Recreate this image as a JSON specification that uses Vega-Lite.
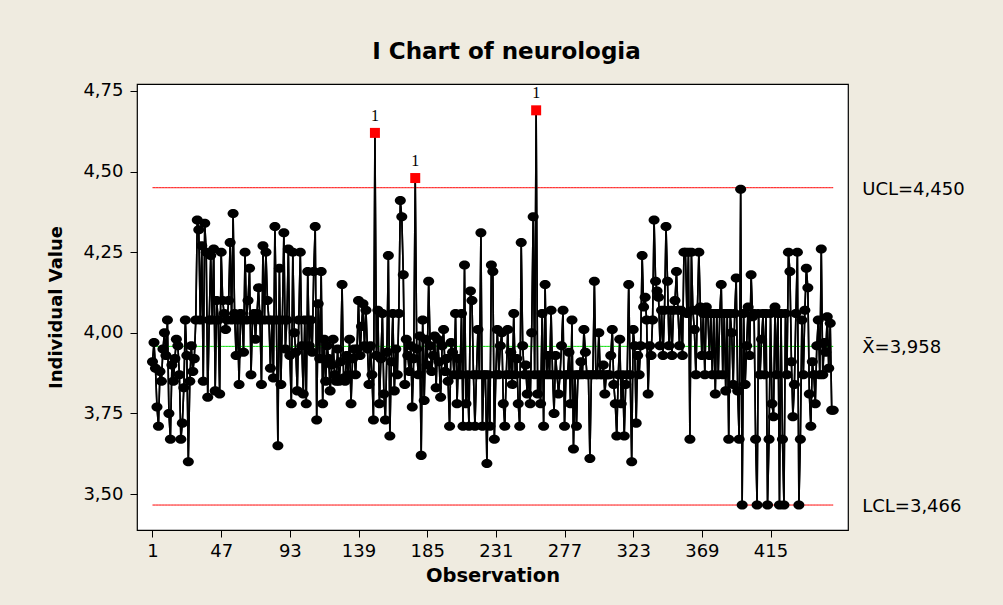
{
  "$schema": "https://vega.github.io/schema/vega-lite/v6.json",
  "width": 711,
  "height": 446,
  "autosize": {"type": "none"},
  "padding": {"left": 137, "top": 84, "right": 155, "bottom": 75},
  "background": "#EFEBE0",
  "config": {
    "view": {"fill": "white", "stroke": "black", "strokeWidth": 1.2},
    "font": "DejaVu Sans"
  },
  "title": {"text": "I Chart of neurologia", "fontSize": 23, "fontWeight": "bold", "font": "DejaVu Sans", "color": "black", "anchor": "middle", "offset": 18, "dx": 14},
  "datasets": {
    "limits": [
      {"kind": "UCL", "v": 4.450, "lbl": "UCL=4,450"},
      {"kind": "CL", "v": 3.958, "lbl": "X\u0304=3,958"},
      {"kind": "LCL", "v": 3.466, "lbl": "LCL=3,466"}
    ],
    "obs": [
{"obs":1,"v":3.91},{"obs":2,"v":3.97},{"obs":3,"v":3.89},{"obs":4,"v":3.77},{"obs":5,"v":3.71},{"obs":6,"v":3.88},{"obs":7,"v":3.85},{"obs":8,"v":3.95},{"obs":9,"v":4.00},{"obs":10,"v":3.93},
{"obs":11,"v":4.04},{"obs":12,"v":3.75},{"obs":13,"v":3.67},{"obs":14,"v":3.90},{"obs":15,"v":3.85},{"obs":16,"v":3.92},{"obs":17,"v":3.98},{"obs":18,"v":3.96},{"obs":19,"v":3.87},{"obs":20,"v":3.67},
{"obs":21,"v":3.72},{"obs":22,"v":3.83},{"obs":23,"v":4.04},{"obs":24,"v":3.93},{"obs":25,"v":3.60},{"obs":26,"v":3.85},{"obs":27,"v":3.96},{"obs":28,"v":3.88},{"obs":29,"v":3.92},{"obs":30,"v":4.04},
{"obs":31,"v":4.35},{"obs":32,"v":4.32},{"obs":33,"v":4.04},{"obs":34,"v":4.27},{"obs":35,"v":3.85},{"obs":36,"v":4.34},{"obs":37,"v":4.25},{"obs":38,"v":3.80},{"obs":39,"v":4.04},{"obs":40,"v":4.24},
{"obs":41,"v":4.04},{"obs":42,"v":4.26},{"obs":43,"v":3.82},{"obs":44,"v":4.10},{"obs":45,"v":4.04},{"obs":46,"v":3.81},{"obs":47,"v":4.25},{"obs":48,"v":4.10},{"obs":49,"v":4.06},{"obs":50,"v":4.01},
{"obs":51,"v":4.04},{"obs":52,"v":4.10},{"obs":53,"v":4.28},{"obs":54,"v":4.04},{"obs":55,"v":4.37},{"obs":56,"v":4.06},{"obs":57,"v":3.93},{"obs":58,"v":4.04},{"obs":59,"v":3.84},{"obs":60,"v":4.06},
{"obs":61,"v":4.04},{"obs":62,"v":3.94},{"obs":63,"v":4.25},{"obs":64,"v":4.04},{"obs":65,"v":4.10},{"obs":66,"v":4.20},{"obs":67,"v":3.87},{"obs":68,"v":4.04},{"obs":69,"v":4.06},{"obs":70,"v":3.98},
{"obs":71,"v":4.06},{"obs":72,"v":4.14},{"obs":73,"v":4.04},{"obs":74,"v":3.84},{"obs":75,"v":4.27},{"obs":76,"v":4.04},{"obs":77,"v":4.25},{"obs":78,"v":4.10},{"obs":79,"v":4.04},{"obs":80,"v":3.89},
{"obs":81,"v":4.04},{"obs":82,"v":3.86},{"obs":83,"v":4.33},{"obs":84,"v":4.04},{"obs":85,"v":3.65},{"obs":86,"v":4.20},{"obs":87,"v":3.84},{"obs":88,"v":4.04},{"obs":89,"v":4.31},{"obs":90,"v":3.95},
{"obs":91,"v":4.04},{"obs":92,"v":4.26},{"obs":93,"v":3.93},{"obs":94,"v":3.78},{"obs":95,"v":4.25},{"obs":96,"v":4.00},{"obs":97,"v":3.94},{"obs":98,"v":3.82},{"obs":99,"v":4.04},{"obs":100,"v":4.25},
{"obs":101,"v":3.96},{"obs":102,"v":3.81},{"obs":103,"v":4.04},{"obs":104,"v":3.78},{"obs":105,"v":4.19},{"obs":106,"v":3.96},{"obs":107,"v":4.04},{"obs":108,"v":3.94},{"obs":109,"v":4.19},{"obs":110,"v":4.33},
{"obs":111,"v":3.73},{"obs":112,"v":4.09},{"obs":113,"v":3.92},{"obs":114,"v":4.19},{"obs":115,"v":3.78},{"obs":116,"v":3.98},{"obs":117,"v":3.85},{"obs":118,"v":3.96},{"obs":119,"v":3.92},{"obs":120,"v":3.82},
{"obs":121,"v":3.90},{"obs":122,"v":3.98},{"obs":123,"v":3.87},{"obs":124,"v":3.85},{"obs":125,"v":3.95},{"obs":126,"v":3.85},{"obs":127,"v":3.91},{"obs":128,"v":4.15},{"obs":129,"v":3.86},{"obs":130,"v":3.85},
{"obs":131,"v":3.93},{"obs":132,"v":3.87},{"obs":133,"v":3.98},{"obs":134,"v":3.78},{"obs":135,"v":3.92},{"obs":136,"v":3.95},{"obs":137,"v":3.87},{"obs":138,"v":3.95},{"obs":139,"v":4.10},{"obs":140,"v":3.93},
{"obs":141,"v":4.02},{"obs":142,"v":4.09},{"obs":143,"v":3.96},{"obs":144,"v":4.07},{"obs":145,"v":3.95},{"obs":146,"v":3.84},{"obs":147,"v":3.96},{"obs":148,"v":3.87},{"obs":149,"v":3.73},{"obs":150,"v":4.62},
{"obs":151,"v":3.93},{"obs":152,"v":4.07},{"obs":153,"v":3.78},{"obs":154,"v":3.92},{"obs":155,"v":4.06},{"obs":156,"v":3.81},{"obs":157,"v":3.73},{"obs":158,"v":3.94},{"obs":159,"v":4.24},{"obs":160,"v":3.68},
{"obs":161,"v":3.91},{"obs":162,"v":4.06},{"obs":163,"v":3.82},{"obs":164,"v":3.95},{"obs":165,"v":3.87},{"obs":166,"v":4.06},{"obs":167,"v":4.41},{"obs":168,"v":4.36},{"obs":169,"v":4.18},{"obs":170,"v":3.84},
{"obs":171,"v":3.98},{"obs":172,"v":3.93},{"obs":173,"v":3.88},{"obs":174,"v":3.96},{"obs":175,"v":3.77},{"obs":176,"v":3.92},{"obs":177,"v":4.48},{"obs":178,"v":3.95},{"obs":179,"v":3.87},{"obs":180,"v":3.99},
{"obs":181,"v":3.62},{"obs":182,"v":4.04},{"obs":183,"v":3.79},{"obs":184,"v":3.98},{"obs":185,"v":3.90},{"obs":186,"v":4.16},{"obs":187,"v":3.96},{"obs":188,"v":3.88},{"obs":189,"v":3.93},{"obs":190,"v":3.99},
{"obs":191,"v":3.83},{"obs":192,"v":3.98},{"obs":193,"v":3.91},{"obs":194,"v":3.80},{"obs":195,"v":3.96},{"obs":196,"v":4.01},{"obs":197,"v":3.88},{"obs":198,"v":3.92},{"obs":199,"v":3.85},{"obs":200,"v":3.71},
{"obs":201,"v":3.97},{"obs":202,"v":3.94},{"obs":203,"v":3.87},{"obs":204,"v":4.06},{"obs":205,"v":3.78},{"obs":206,"v":3.92},{"obs":207,"v":3.87},{"obs":208,"v":4.06},{"obs":209,"v":3.71},{"obs":210,"v":4.21},
{"obs":211,"v":3.78},{"obs":212,"v":3.87},{"obs":213,"v":3.71},{"obs":214,"v":4.13},{"obs":215,"v":4.10},{"obs":216,"v":3.87},{"obs":217,"v":3.71},{"obs":218,"v":3.87},{"obs":219,"v":4.01},{"obs":220,"v":3.87},
{"obs":221,"v":4.31},{"obs":222,"v":3.71},{"obs":223,"v":3.87},{"obs":224,"v":3.87},{"obs":225,"v":3.595},{"obs":226,"v":3.87},{"obs":227,"v":3.71},{"obs":228,"v":4.21},{"obs":229,"v":4.19},{"obs":230,"v":3.67},
{"obs":231,"v":3.87},{"obs":232,"v":4.01},{"obs":233,"v":3.87},{"obs":234,"v":3.96},{"obs":235,"v":4.00},{"obs":236,"v":3.78},{"obs":237,"v":3.71},{"obs":238,"v":3.87},{"obs":239,"v":4.01},{"obs":240,"v":3.87},
{"obs":241,"v":3.94},{"obs":242,"v":3.84},{"obs":243,"v":4.06},{"obs":244,"v":3.87},{"obs":245,"v":3.92},{"obs":246,"v":3.78},{"obs":247,"v":3.71},{"obs":248,"v":4.28},{"obs":249,"v":3.96},{"obs":250,"v":3.87},
{"obs":251,"v":3.90},{"obs":252,"v":3.81},{"obs":253,"v":3.87},{"obs":254,"v":3.78},{"obs":255,"v":4.00},{"obs":256,"v":4.36},{"obs":257,"v":3.87},{"obs":258,"v":4.69},{"obs":259,"v":3.81},{"obs":260,"v":3.87},
{"obs":261,"v":3.78},{"obs":262,"v":4.06},{"obs":263,"v":3.71},{"obs":264,"v":4.15},{"obs":265,"v":3.87},{"obs":266,"v":3.93},{"obs":267,"v":3.87},{"obs":268,"v":4.07},{"obs":269,"v":3.87},{"obs":270,"v":3.75},
{"obs":271,"v":3.93},{"obs":272,"v":3.87},{"obs":273,"v":3.81},{"obs":274,"v":3.87},{"obs":275,"v":3.96},{"obs":276,"v":4.07},{"obs":277,"v":3.71},{"obs":278,"v":3.87},{"obs":279,"v":3.87},{"obs":280,"v":3.94},
{"obs":281,"v":3.78},{"obs":282,"v":4.04},{"obs":283,"v":3.64},{"obs":284,"v":3.87},{"obs":285,"v":3.71},{"obs":286,"v":3.87},{"obs":287,"v":3.87},{"obs":288,"v":3.91},{"obs":289,"v":3.87},{"obs":290,"v":4.01},
{"obs":291,"v":3.94},{"obs":292,"v":3.87},{"obs":293,"v":3.87},{"obs":294,"v":3.61},{"obs":295,"v":3.87},{"obs":296,"v":3.87},{"obs":297,"v":4.16},{"obs":298,"v":3.87},{"obs":299,"v":3.87},{"obs":300,"v":4.00},
{"obs":301,"v":3.87},{"obs":302,"v":3.87},{"obs":303,"v":3.90},{"obs":304,"v":3.81},{"obs":305,"v":3.87},{"obs":306,"v":3.87},{"obs":307,"v":3.87},{"obs":308,"v":3.93},{"obs":309,"v":4.01},{"obs":310,"v":3.84},
{"obs":311,"v":3.78},{"obs":312,"v":3.68},{"obs":313,"v":3.87},{"obs":314,"v":3.98},{"obs":315,"v":3.78},{"obs":316,"v":3.87},{"obs":317,"v":3.68},{"obs":318,"v":3.84},{"obs":319,"v":3.87},{"obs":320,"v":4.15},
{"obs":321,"v":3.87},{"obs":322,"v":3.60},{"obs":323,"v":4.01},{"obs":324,"v":3.96},{"obs":325,"v":3.72},{"obs":326,"v":3.93},{"obs":327,"v":3.87},{"obs":328,"v":3.96},{"obs":329,"v":4.24},{"obs":330,"v":4.08},
{"obs":331,"v":4.11},{"obs":332,"v":4.04},{"obs":333,"v":3.81},{"obs":334,"v":3.96},{"obs":335,"v":3.93},{"obs":336,"v":4.04},{"obs":337,"v":4.35},{"obs":338,"v":4.16},{"obs":339,"v":4.13},{"obs":340,"v":4.11},
{"obs":341,"v":3.96},{"obs":342,"v":4.07},{"obs":343,"v":3.93},{"obs":344,"v":4.07},{"obs":345,"v":4.33},{"obs":346,"v":4.16},{"obs":347,"v":3.96},{"obs":348,"v":4.07},{"obs":349,"v":3.93},{"obs":350,"v":4.07},
{"obs":351,"v":4.10},{"obs":352,"v":4.19},{"obs":353,"v":4.07},{"obs":354,"v":3.96},{"obs":355,"v":4.07},{"obs":356,"v":3.93},{"obs":357,"v":4.25},{"obs":358,"v":4.25},{"obs":359,"v":4.06},{"obs":360,"v":4.25},
{"obs":361,"v":3.67},{"obs":362,"v":4.25},{"obs":363,"v":4.07},{"obs":364,"v":4.01},{"obs":365,"v":3.87},{"obs":366,"v":4.07},{"obs":367,"v":4.25},{"obs":368,"v":4.08},{"obs":369,"v":3.93},{"obs":370,"v":4.06},
{"obs":371,"v":3.87},{"obs":372,"v":4.08},{"obs":373,"v":4.06},{"obs":374,"v":3.93},{"obs":375,"v":4.06},{"obs":376,"v":3.87},{"obs":377,"v":4.06},{"obs":378,"v":3.81},{"obs":379,"v":4.06},{"obs":380,"v":3.87},
{"obs":381,"v":4.06},{"obs":382,"v":4.15},{"obs":383,"v":3.87},{"obs":384,"v":4.06},{"obs":385,"v":3.82},{"obs":386,"v":4.06},{"obs":387,"v":3.67},{"obs":388,"v":4.06},{"obs":389,"v":4.00},{"obs":390,"v":3.84},
{"obs":391,"v":4.06},{"obs":392,"v":4.17},{"obs":393,"v":3.82},{"obs":394,"v":3.67},{"obs":395,"v":4.445},{"obs":396,"v":3.466},{"obs":397,"v":4.06},{"obs":398,"v":3.84},{"obs":399,"v":3.96},{"obs":400,"v":4.08},
{"obs":401,"v":3.93},{"obs":402,"v":4.18},{"obs":403,"v":4.05},{"obs":404,"v":4.06},{"obs":405,"v":3.67},{"obs":406,"v":3.466},{"obs":407,"v":4.06},{"obs":408,"v":3.87},{"obs":409,"v":3.98},{"obs":410,"v":4.06},
{"obs":411,"v":3.87},{"obs":412,"v":4.06},{"obs":413,"v":3.466},{"obs":414,"v":3.67},{"obs":415,"v":4.06},{"obs":416,"v":3.78},{"obs":417,"v":3.74},{"obs":418,"v":4.08},{"obs":419,"v":3.87},{"obs":420,"v":4.06},
{"obs":421,"v":3.466},{"obs":422,"v":4.06},{"obs":423,"v":3.67},{"obs":424,"v":3.466},{"obs":425,"v":4.06},{"obs":426,"v":3.87},{"obs":427,"v":4.25},{"obs":428,"v":4.19},{"obs":429,"v":3.91},{"obs":430,"v":3.74},
{"obs":431,"v":3.84},{"obs":432,"v":4.06},{"obs":433,"v":4.25},{"obs":434,"v":3.466},{"obs":435,"v":3.67},{"obs":436,"v":4.04},{"obs":437,"v":3.87},{"obs":438,"v":4.07},{"obs":439,"v":4.20},{"obs":440,"v":4.14},
{"obs":441,"v":3.81},{"obs":442,"v":3.71},{"obs":443,"v":3.91},{"obs":444,"v":3.87},{"obs":445,"v":3.78},{"obs":446,"v":3.96},{"obs":447,"v":4.04},{"obs":448,"v":3.87},{"obs":449,"v":4.26},{"obs":450,"v":3.87},
{"obs":451,"v":3.97},{"obs":452,"v":3.94},{"obs":453,"v":4.05},{"obs":454,"v":3.89},{"obs":455,"v":4.03},{"obs":456,"v":3.76},{"obs":457,"v":3.76}
    ]
  },
  "layer": [
    {
      "data": {"name": "obs"},
      "mark": {"type": "line", "color": "black", "strokeWidth": 1.6},
      "encoding": {
        "x": {
          "field": "obs", "type": "quantitative",
          "scale": {"domain": [-9.38, 466.9], "nice": false, "zero": false},
          "axis": {
            "values": [1, 47, 93, 139, 185, 231, 277, 323, 369, 415],
            "grid": false, "domain": false, "tickSize": 7, "tickColor": "black", "tickWidth": 1,
            "labelFontSize": 18, "labelColor": "black", "labelFont": "DejaVu Sans", "labelPadding": 5,
            "labelFlush": false, "labelOverlap": false,
            "title": "Observation", "titleFontSize": 19.5, "titleFontWeight": "bold", "titleColor": "black",
            "titleFont": "DejaVu Sans", "titlePadding": 6
          }
        },
        "y": {
          "field": "v", "type": "quantitative",
          "scale": {"domain": [3.3886, 4.7716], "nice": false, "zero": false},
          "axis": {
            "values": [3.5, 3.75, 4, 4.25, 4.5, 4.75],
            "labelExpr": "replace(format(datum.value, '.2f'), '.', ',')",
            "grid": false, "domain": false, "tickSize": 7, "tickColor": "black", "tickWidth": 1,
            "labelFontSize": 18, "labelColor": "black", "labelFont": "DejaVu Sans", "labelPadding": 7,
            "labelFlush": false, "labelOverlap": false,
            "title": "Individual Value", "titleFontSize": 18, "titleFontWeight": "bold", "titleColor": "black",
            "titleFont": "DejaVu Sans", "titlePadding": 17
          }
        }
      }
    },
    {
      "data": {"name": "obs"},
      "mark": {"type": "line", "color": "#FF0000", "strokeWidth": 1},
      "encoding": {
        "x": {"field": "obs", "type": "quantitative", "title": "Observation"},
        "y": {"datum": 4.450, "type": "quantitative", "title": "Individual Value"}
      }
    },
    {
      "data": {"name": "obs"},
      "mark": {"type": "line", "color": "#FF0000", "strokeWidth": 1},
      "encoding": {
        "x": {"field": "obs", "type": "quantitative", "title": "Observation"},
        "y": {"datum": 3.466, "type": "quantitative", "title": "Individual Value"}
      }
    },
    {
      "data": {"name": "obs"},
      "mark": {"type": "line", "color": "#00E000", "strokeWidth": 1},
      "encoding": {
        "x": {"field": "obs", "type": "quantitative", "title": "Observation"},
        "y": {"datum": 3.958, "type": "quantitative", "title": "Individual Value"}
      }
    },
    {
      "data": {"name": "obs"},
      "mark": {"type": "line", "color": "black", "strokeWidth": 1.6},
      "encoding": {
        "x": {"field": "obs", "type": "quantitative", "title": "Observation"},
        "y": {"field": "v", "type": "quantitative", "title": "Individual Value"}
      }
    },
    {
      "data": {"name": "obs"},
      "transform": [{"filter": "datum.v <= 4.45"}],
      "mark": {"type": "point", "shape": "M-1,0A1,0.82 0 1,1 1,0A1,0.82 0 1,1 -1,0Z", "filled": true, "size": 121, "color": "black", "opacity": 1},
      "encoding": {
        "x": {"field": "obs", "type": "quantitative", "title": "Observation"},
        "y": {"field": "v", "type": "quantitative", "title": "Individual Value"}
      }
    },
    {
      "data": {"name": "obs"},
      "transform": [{"filter": "datum.v > 4.45"}],
      "mark": {"type": "square", "size": 100, "color": "#FF0000", "opacity": 1},
      "encoding": {
        "x": {"field": "obs", "type": "quantitative", "title": "Observation"},
        "y": {"field": "v", "type": "quantitative", "title": "Individual Value"}
      }
    },
    {
      "data": {"name": "obs"},
      "transform": [{"filter": "datum.v > 4.45"}],
      "mark": {"type": "text", "text": "1", "dy": -17, "font": "Liberation Serif", "fontSize": 16, "color": "black"},
      "encoding": {
        "x": {"field": "obs", "type": "quantitative", "title": "Observation"},
        "y": {"field": "v", "type": "quantitative", "title": "Individual Value"}
      }
    },
    {
      "data": {"name": "limits"},
      "mark": {"type": "text", "align": "left", "baseline": "middle", "dx": 29, "dy": 2, "fontSize": 18, "font": "DejaVu Sans", "color": "black"},
      "encoding": {
        "x": {"datum": 457, "type": "quantitative", "title": "Observation"},
        "y": {"field": "v", "type": "quantitative", "title": "Individual Value"},
        "text": {"field": "lbl"}
      }
    }
  ]
}
